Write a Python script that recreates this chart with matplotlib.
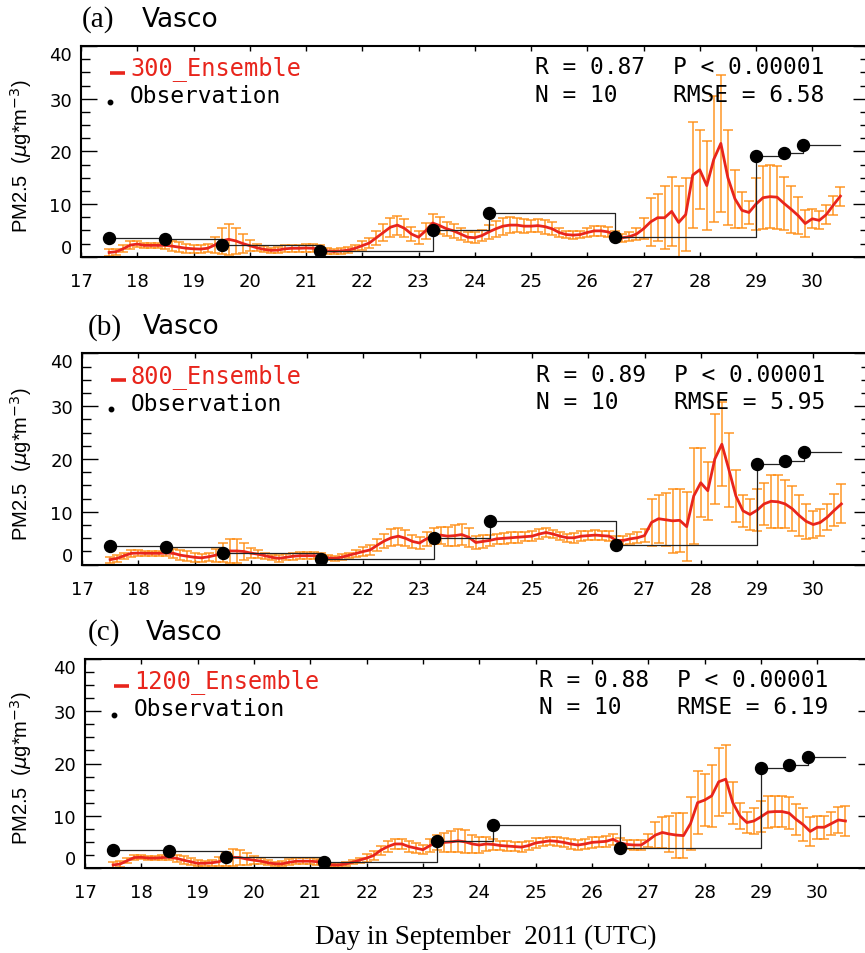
import numpy as np
import matplotlib
matplotlib.use("Agg")
import matplotlib.pyplot as plt
from matplotlib.lines import Line2D

# ---------------- data ----------------
# 3-hourly model output times (day of September 2011)
hours_start, hours_step, n_steps = 17.5, 0.125, 105
time_day = hours_start + hours_step * np.arange(n_steps)

obs_day = [17.5, 18.5, 19.5, 21.25, 23.25, 24.25, 26.5, 29.0, 29.5, 29.83]
obs_val = [3.5, 3.3, 2.2, 1.1, 5.1, 8.25, 3.75, 19.1, 19.7, 21.3]
obs_end_day = 30.5

mean_300 = [0.8, 0.95, 1.5, 2.2, 2.4, 2.15, 2.15, 2.15, 2.15, 2.0, 1.8, 1.6, 1.5, 1.45, 1.6, 2.2,
            3.0, 3.3, 3.0, 2.5, 2.1, 1.7, 1.4, 1.2, 1.25, 1.5, 1.6, 1.6, 1.65, 1.6, 1.4, 1.1,
            1.0, 1.1, 1.25, 1.6, 2.1, 2.6, 3.6, 4.6, 5.6, 6.0, 5.4, 4.3, 3.7, 4.9, 6.4, 5.9,
            5.3, 4.9, 4.3, 3.7, 3.6, 4.0, 4.7, 5.3, 5.8, 6.0, 6.0, 5.8, 5.8, 5.9, 5.7, 5.3,
            4.6, 4.2, 4.1, 4.2, 4.6, 4.9, 4.9, 4.7, 4.0, 3.6, 3.8, 4.3, 5.3, 6.6, 7.4, 7.4,
            8.6, 6.5, 8.0, 15.5, 16.5, 13.5, 18.5, 21.5, 15.0, 11.0, 8.8, 8.4, 10.0, 11.2, 11.4, 11.3,
            10.1, 9.0, 7.8, 6.3, 7.2, 6.9, 8.0, 9.8, 11.5]
spread_300 = [0.6, 0.6, 0.7, 0.7, 0.6, 0.5, 0.5, 0.5, 0.6, 0.9, 1.0, 0.9, 0.8, 0.7, 0.8, 1.5,
              2.5, 3.0, 2.5, 1.8, 1.0, 0.7, 0.6, 0.5, 0.6, 0.7, 0.7, 0.7, 0.8, 0.8, 0.8, 0.6,
              0.5, 0.5, 0.5, 0.6, 0.8, 1.0, 1.3, 1.6, 1.8, 1.8, 1.7, 1.3, 1.2, 1.5, 1.8, 1.6,
              1.3, 1.3, 1.2, 1.0, 1.0, 1.0, 1.3, 1.5, 1.6, 1.5, 1.4, 1.3, 1.2, 1.2, 1.3, 1.2,
              0.9, 0.7, 0.7, 0.7, 0.9, 1.0, 0.9, 0.9, 0.8, 0.8, 0.9, 1.2, 2.0, 4.5, 4.5, 6.0,
              6.5, 7.0, 7.0, 10.0, 7.5, 8.5, 12.0, 13.0, 9.0, 5.5, 3.4, 2.2, 5.0, 6.0, 6.0, 6.0,
              5.0, 4.5, 3.5, 2.5, 1.8, 1.7, 1.8, 1.8, 1.8]

mean_800 = [0.95, 1.2, 1.7, 2.15, 2.2, 2.15, 2.15, 2.15, 2.2, 2.15, 1.8, 1.6, 1.4, 1.3, 1.5, 1.8,
            2.3, 2.6, 2.6, 2.5, 2.2, 2.0, 1.7, 1.4, 1.2, 1.4, 1.6, 1.7, 1.7, 1.7, 1.6, 1.3,
            1.2, 1.45, 1.8, 2.15, 2.5, 2.8, 3.7, 4.5, 5.1, 5.4, 5.0, 4.4, 4.1, 4.9, 5.5, 5.6,
            5.4, 5.5, 5.7, 5.2, 4.2, 4.4, 4.6, 4.9, 5.0, 5.1, 5.2, 5.3, 5.4, 5.8, 6.1, 5.8,
            5.4, 5.1, 5.1, 5.4, 5.5, 5.6, 5.5, 5.4, 4.6, 4.6, 4.9, 5.1, 5.5, 8.0, 8.7, 8.5,
            8.3, 8.4, 7.2, 13.0, 15.5, 14.0, 20.0, 22.8, 18.0, 13.0, 10.2, 9.5, 10.3, 11.5, 12.0, 11.9,
            11.5, 10.6, 9.3, 8.2, 7.6, 8.0, 9.0, 10.3, 11.5]
spread_800 = [0.6, 0.6, 0.6, 0.6, 0.5, 0.5, 0.5, 0.5, 0.6, 0.9, 1.0, 0.9, 0.8, 0.7, 0.8, 1.2,
              1.8, 2.3, 2.2, 1.6, 1.0, 0.7, 0.6, 0.5, 0.6, 0.6, 0.7, 0.7, 0.7, 0.7, 0.7, 0.5,
              0.5, 0.5, 0.5, 0.6, 0.8, 1.0, 1.2, 1.4, 1.6, 1.6, 1.5, 1.2, 1.1, 1.3, 1.5, 1.6,
              1.8, 2.0, 2.0, 1.8, 1.3, 1.2, 1.1, 1.0, 1.0, 1.0, 1.0, 0.9, 0.9, 0.9, 0.8, 0.8,
              0.8, 0.8, 0.9, 0.9, 0.9, 0.9, 0.9, 0.9, 0.9, 0.9, 1.0, 1.0, 1.2, 4.5, 4.5, 5.0,
              6.0, 6.0, 6.5, 9.0, 6.5, 5.5, 8.5, 8.0, 7.0, 5.0, 3.0, 3.0, 4.0, 4.0, 5.0, 5.0,
              4.5, 4.3, 3.8, 3.3, 2.5, 2.5, 2.5, 3.0, 3.7]

mean_1200 = [0.58, 0.77, 1.4, 2.0, 2.05, 1.9, 1.9, 2.0, 2.05, 1.85, 1.5, 1.2, 0.9, 0.9, 1.0, 1.2,
             1.7, 2.05, 2.0, 1.7, 1.5, 1.3, 1.0, 0.8, 0.8, 1.1, 1.3, 1.3, 1.3, 1.2, 1.1, 0.6,
             0.58, 0.77, 1.1, 1.5, 1.9, 2.4, 3.4, 4.1, 4.6, 4.6, 4.1, 3.8, 3.5, 4.3, 4.9, 4.9,
             5.0, 5.2, 5.0, 4.6, 4.4, 4.6, 4.5, 4.3, 4.2, 4.1, 4.0, 4.3, 4.8, 5.0, 5.2, 5.1,
             4.9, 4.6, 4.4, 4.6, 4.9, 5.0, 5.1, 5.5, 4.8, 4.5, 4.4, 4.4, 5.3, 6.3, 6.8, 6.5,
             6.3, 6.2, 8.5, 12.5, 13.0, 13.8, 16.5, 17.0, 12.5, 10.0, 8.7, 9.0, 9.8, 10.7, 10.8, 10.8,
             10.5, 9.3, 8.3, 7.0, 7.8, 7.8, 8.5, 9.2, 9.0]
spread_1200 = [0.5, 0.5, 0.5, 0.5, 0.4, 0.4, 0.4, 0.4, 0.5, 0.7, 0.8, 0.7, 0.6, 0.5, 0.6, 0.9,
               1.3, 1.6, 1.5, 1.2, 0.8, 0.6, 0.5, 0.4, 0.5, 0.6, 0.6, 0.6, 0.6, 0.6, 0.6, 0.4,
               0.4, 0.4, 0.4, 0.5, 0.7, 0.8, 0.9, 1.0, 1.0, 1.0, 1.0, 0.9, 0.9, 1.2, 1.5, 1.8,
               2.0, 2.2, 2.2, 1.8, 1.5, 1.3, 1.0, 0.9, 0.9, 0.9, 0.9, 0.9, 0.9, 0.8, 0.8, 0.8,
               0.9, 1.0, 1.0, 1.0, 1.0, 1.0, 1.0, 1.1, 1.0, 0.9, 0.9, 0.9, 1.2, 2.5, 3.0, 3.5,
               4.3, 4.3, 5.0, 6.0, 5.0, 6.0, 6.5, 6.5, 4.0, 2.5, 2.0, 2.5, 3.0, 3.0, 3.0, 3.0,
               3.0, 3.0, 3.2, 2.8, 2.2, 2.2, 2.2, 2.5, 2.8]

panel_tags = ["(a)", "(b)", "(c)"]
site_name = "Vasco"
ens_labels = ["300_Ensemble", "800_Ensemble", "1200_Ensemble"]
stat_R = ["0.87", "0.89", "0.88"]
stat_N = ["10", "10", "10"]
stat_P = ["0.00001", "0.00001", "0.00001"]
stat_RMSE = ["6.58", "5.95", "6.19"]
x_ticks = list(range(17, 31))
y_major = [0, 10, 20, 30, 40]

means = [mean_300, mean_800, mean_1200]
spreads = [spread_300, spread_800, spread_1200]

# ---------------- layout ----------------
W, H = 865, 954
RED = "#e8251c"
ORANGE = "#ff8c10"

# (left, right, top, bottom) in pixels
boxes = [(81, 868.5, 47, 257.7), (82, 869.5, 354.3, 565.7), (85, 873.6, 660, 869)]
tag_x = [82, 88, 88]

fig = plt.figure(figsize=(W / 100, H / 100), dpi=100)


def fx(px):
    return px / W


def fy(py):
    return 1 - py / H


mono = "DejaVu Sans Mono"

for i in range(3):
    l, r, top, bot = boxes[i]
    ax = fig.add_axes([fx(l), fy(bot), (r - l) / W, (bot - top) / H])
    ax.errorbar(time_day, means[i], yerr=spreads[i], fmt="none", ecolor=ORANGE,
                elinewidth=1.1, capsize=3.6, capthick=1.1, alpha=0.9, zorder=2)
    ax.plot(time_day, means[i], color=RED, lw=2.0, zorder=3, solid_joinstyle="round")
    sx = obs_day + [obs_end_day]
    sy = obs_val + [obs_val[-1]]
    ax.plot(sx, sy, drawstyle="steps-post", color="#222222", lw=0.9, zorder=4)
    ax.plot(obs_day, obs_val, "o", color="black", ms=8.6, zorder=5)

    ax.set_xlim(17, 31)
    ax.set_ylim(0, 40)
    ax.set_xticks(x_ticks)
    ax.set_xticklabels([str(v) for v in x_ticks])
    ax.set_yticks(y_major)
    ax.set_yticks(np.arange(0, 40.01, 2.5), minor=True)
    ax.set_yticklabels([str(v) for v in y_major])
    ax.tick_params(axis="x", which="major", direction="in", length=3.6, width=1.0,
                   top=True, bottom=True, labelsize=13, pad=11)
    ax.tick_params(axis="y", which="major", direction="in", length=11.3, width=1.0,
                   left=True, right=True, labelsize=13, pad=6.5)
    ax.tick_params(axis="y", which="minor", direction="in", length=6.5, width=1.0,
                   left=True, right=True)
    for s in ax.spines.values():
        s.set_linewidth(1.5)
    ylabs = ax.get_yticklabels()
    ylabs[0].set_va("bottom")
    ylabs[-1].set_va("top")
    ax.set_ylabel(r"PM2.5  ($\mu$g*m$^{-3}$)", fontsize=14.5, family="Liberation Sans")
    ax.yaxis.set_label_coords(-(l - 34) / (r - l), 0.48)

    # panel title
    fig.text(fx(tag_x[i]), fy(top - 27), panel_tags[i], family="Liberation Serif",
             fontsize=21, va="center", ha="left")
    fig.text(fx(l + 61), fy(top - 27), site_name, family="DejaVu Sans",
             fontsize=19, va="center", ha="left")

    # legend
    fig.add_artist(Line2D([fx(l + 29), fx(l + 44)], [fy(top + 27), fy(top + 27)],
                          color=RED, lw=2.6, solid_capstyle="butt"))
    fig.text(fx(l + 49), fy(top + 22), ens_labels[i], family=mono, fontsize=17,
             color=RED, va="center", ha="left")
    fig.add_artist(Line2D([fx(l + 29)], [fy(top + 56)], marker="o", color="black",
                          ms=3.2, lw=0))
    fig.text(fx(l + 49), fy(top + 50), "Observation", family=mono, fontsize=16.5,
             color="black", va="center", ha="left")

    # statistics
    fig.text(fx(l + 454), fy(top + 21), "R = " + stat_R[i], family=mono, fontsize=16.5,
             va="center", ha="left")
    fig.text(fx(l + 592), fy(top + 21), "P < " + stat_P[i], family=mono, fontsize=16.5,
             va="center", ha="left")
    fig.text(fx(l + 454), fy(top + 48), "N = " + stat_N[i], family=mono, fontsize=16.5,
             va="center", ha="left")
    fig.text(fx(l + 592), fy(top + 48), "RMSE = " + stat_RMSE[i], family=mono, fontsize=16.5,
             va="center", ha="left")

fig.text(fx(486), fy(937), "Day in September  2011 (UTC)", family="Liberation Serif",
         fontsize=19.5, ha="center", va="center")

fig.savefig("out.png", dpi=100)
